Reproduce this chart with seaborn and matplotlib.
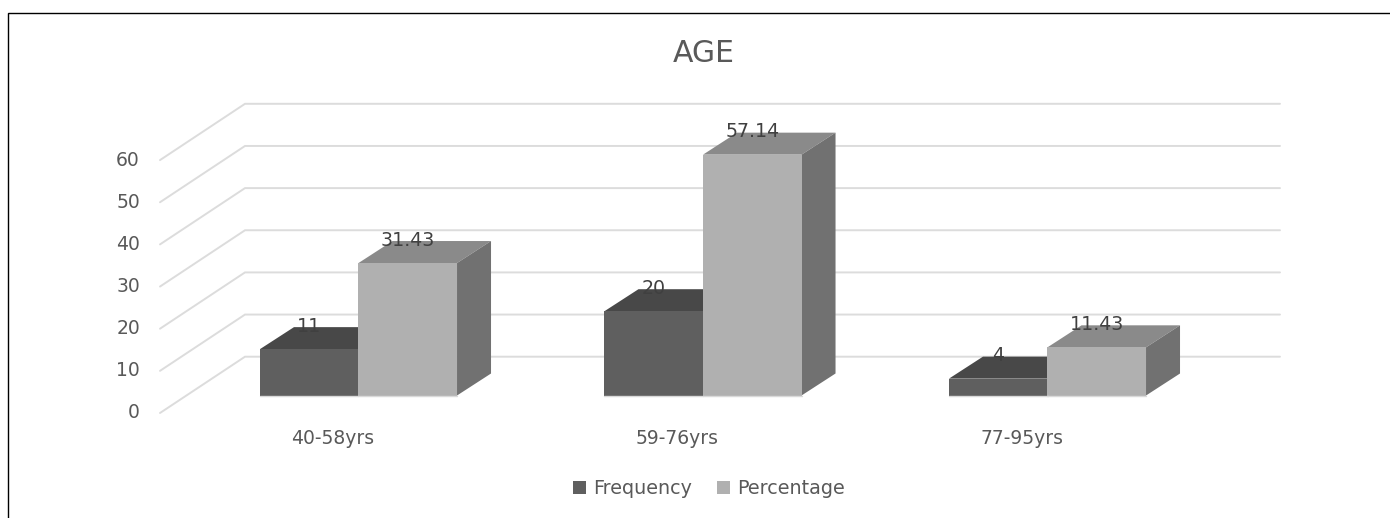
import pandas as pd
import seaborn as sns
import matplotlib.pyplot as plt
from matplotlib.patches import Polygon

ages = ['40-58yrs', '59-76yrs', '77-95yrs']
frequency = [11, 20, 4]
percentage = [31.43, 57.14, 11.43]
y_ticks = [0, 10, 20, 30, 40, 50, 60]

df = pd.DataFrame({
    'age': ages * 2,
    'series': ['Frequency'] * 3 + ['Percentage'] * 3,
    'value': frequency + percentage,
})

sns.set_theme(style='white')
plt.rcParams['font.family'] = ['DejaVu Sans']
TXT = '#595959'

fig, ax = plt.subplots(figsize=(13.9, 5.18), dpi=100)
ax.set_position([0, 0, 1, 1])

sns.barplot(data=df, x='age', y='value', hue='series', palette=['#5f5f5f', '#b0b0b0'],
            width=0.572, gap=0, saturation=1, linewidth=0, ax=ax)


# the axes fill the figure, so pixel positions from the picture convert directly
def xd(p):
    return (p - 358.5) / 344.5


def yd(p):
    return (395.5 - p) / 4.215


ax.set_xlim(xd(0), xd(1390))
ax.set_ylim(yd(518), yd(0))
ax.axis('off')

# depth of the fake 3d
dx = 34 / 344.5
dy = 22 / 4.215

# walls and floor grid
for t in y_ticks:
    back = t + yd(356.7)
    front = t + yd(413)
    ax.plot([xd(160), xd(245), xd(1280)], [front, back, back], color='#dcdcdc', lw=1.4, zorder=1,
            solid_joinstyle='miter')
    ax.text(xd(140), front, str(t), ha='right', va='center', color=TXT, fontsize=13.5)

faces = [('#484848', '#3c3c3c'), ('#8a8a8a', '#717171')]
for i, cont in enumerate(ax.containers):
    top_c, side_c = faces[i]
    for bar in cont:
        bar.set_zorder(3 + i + 0.5)
        x0, x1 = bar.get_x(), bar.get_x() + bar.get_width()
        h = bar.get_height()
        ax.add_patch(Polygon([(x0, h), (x1, h), (x1 + dx, h + dy), (x0 + dx, h + dy)],
                             facecolor=top_c, edgecolor='none', zorder=3 + i))
        ax.add_patch(Polygon([(x1, 0), (x1 + dx, dy), (x1 + dx, h + dy), (x1, h)],
                             facecolor=side_c, edgecolor='none', zorder=3 + i))
        ax.plot([x0, x1], [0, 0], color='#d9d9d9', lw=1, zorder=5)
    for lab in ax.bar_label(cont, fmt='%g', padding=9.5, color='#404040', fontsize=13.7):
        lab.set_zorder(7)

for i, name in enumerate(ages):
    ax.text(i + xd(333), yd(438), name, ha='center', va='center', color=TXT, fontsize=13.5)

ax.text(xd(704), yd(54), 'AGE', ha='center', va='center', color=TXT, fontsize=21.5)

# the black frame runs off the right and bottom edges
ax.plot([xd(8.5), xd(8.5), xd(1390)], [yd(518), yd(12.5), yd(12.5)], color='black', lw=1, zorder=8,
        solid_joinstyle='miter')

handles, labels = ax.get_legend_handles_labels()
ax.legend(handles, labels, ncols=2, loc='center', bbox_to_anchor=(709 / 1390, 1 - 489 / 518),
          frameon=False, fontsize=13.8, labelcolor=TXT, handlelength=0.68, handleheight=0.68,
          handletextpad=0.38, columnspacing=1.3)

fig.savefig('out.png', dpi=100)
